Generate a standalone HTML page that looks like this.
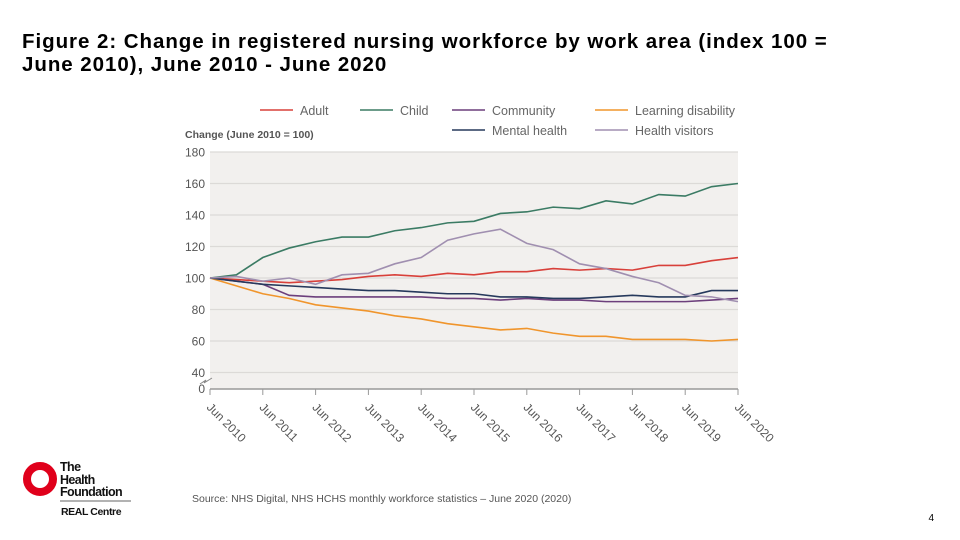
<!DOCTYPE html>
<html><head><meta charset="utf-8"><style>
body{margin:0;width:960px;height:540px;background:#fff;font-family:"Liberation Sans",sans-serif;overflow:hidden;position:relative}
.t{position:absolute;left:22px;top:30px;font-size:20.5px;font-weight:bold;letter-spacing:0.95px;line-height:23px;color:#000;white-space:nowrap}
</style></head><body>
<div class="t">Figure 2: Change in registered nursing workforce by work area (index 100 =<br>June 2010), June 2010 - June 2020</div>
<svg id="c" width="960" height="540" style="position:absolute;left:0;top:0"></svg>
<script>
const years=["Jun 2010","Jun 2011","Jun 2012","Jun 2013","Jun 2014","Jun 2015","Jun 2016","Jun 2017","Jun 2018","Jun 2019","Jun 2020"];
const yTicks=[40,60,80,100,120,140,160,180];
const adult=[100,99,98,97,98,99,101,102,101,103,102,104,104,106,105,106,105,108,108,111,113];
const child=[100,102,113,119,123,126,126,130,132,135,136,141,142,145,144,149,147,153,152,158,160];
const community=[100,98,96,89,88,88,88,88,88,87,87,86,87,86,86,85,85,85,85,86,87];
const mental=[100,98,96,95,94,93,92,92,91,90,90,88,88,87,87,88,89,88,88,92,92];
const learning=[100,95,90,87,83,81,79,76,74,71,69,67,68,65,63,63,61,61,61,60,61];
const visitors=[100,101,98,100,96,102,103,109,113,124,128,131,122,118,109,106,101,97,89,88,85];
const series=[["adult",adult,"#d8403a"],["child",child,"#3b7b64"],["community",community,"#6c3f7c"],["learning-disability",learning,"#f0952c"],["mental-health",mental,"#26395c"],["health-visitors",visitors,"#a08fb0"]];
const x0=210,x1=738;
const X=i=>x0+(x1-x0)*i/(child.length-1);
const Y=v=>v<=0?389:278-(v-100)*31.5/20;
const svg=document.getElementById('c');const NS="http://www.w3.org/2000/svg";
function mk(t,a,p){const e=document.createElementNS(NS,t);for(const k in a)e.setAttribute(k,a[k]);(p||svg).appendChild(e);return e;}
let bg=mk('rect',{x:x0,y:Y(180),width:x1-x0,height:389-Y(180),fill:'#f2f0ee'});


yTicks.forEach(v=>{
 const g=mk('line',{x1:x0,x2:x1,y1:Y(v),y2:Y(v),stroke:'#dcdad7','stroke-width':1.2});
 
 
 const t=mk('text',{x:205,y:Y(v)+4.5,'text-anchor':'end','font-size':12,fill:'#555'});t.textContent=v;
 
 
});
let z=mk('text',{x:205,y:393,'text-anchor':'end','font-size':12,fill:'#555'});z.textContent='0';


let br=mk('path',{d:'M200 384 L206 380 L204 383 L212 378',stroke:'#888',fill:'none'});


let ax=mk('line',{x1:x0,x2:x1,y1:389,y2:389,stroke:'#999','stroke-width':1.5});


years.forEach((yr,i)=>{
 const x=x0+(x1-x0)*i/(years.length-1);
 const tk=mk('line',{x1:x,x2:x,y1:389,y2:395,stroke:'#999'});
 
 
 const t=mk('text',{x:x-4,y:408,'font-size':12,fill:'#555',transform:`rotate(45 ${x-4} 408)`});t.textContent=yr;
 
 
});
series.forEach(([n,d,c])=>{
 const p=mk('polyline',{points:d.map((v,i)=>X(i)+','+Y(v)).join(' '),fill:'none',stroke:c,'stroke-width':1.6});
 
 
});
const leg=[["Adult",260,112,"#d8403a"],["Child",360,112,"#3b7b64"],["Community",452,112,"#6c3f7c"],["Learning disability",595,112,"#f0952c"],["Mental health",452,132,"#26395c"],["Health visitors",595,132,"#a08fb0"]];
leg.forEach(([n,x,y,c])=>{
 const g=mk('g',{});
 
 
 mk('line',{x1:x,x2:x+33,y1:y-2,y2:y-2,stroke:c,'stroke-width':1.6},g);
 const t=mk('text',{x:x+40,y:y+3,'font-size':12.5,fill:'#666'},g);t.textContent=n;
});
let yl=mk('text',{x:185,y:138,'font-size':10.5,'font-weight':'bold',fill:'#555'});yl.textContent='Change (June 2010 = 100)';


let src=mk('text',{x:192,y:502,'font-size':10.5,fill:'#555'});src.textContent='Source: NHS Digital, NHS HCHS monthly workforce statistics – June 2020 (2020)';


let pg=mk('text',{x:934,y:521,'font-size':10,fill:'#000','text-anchor':'end'});pg.textContent='4';


const lg=mk('g',{});


mk('circle',{cx:40,cy:479,r:13,fill:'none',stroke:'#e0001b','stroke-width':8},lg);
[["The",471],["Health",484],["Foundation",496]].forEach(([s,y])=>{const t=mk('text',{x:60,y:y,'font-size':12.5,'font-weight':'bold',fill:'#111','letter-spacing':'-0.6'},lg);t.textContent=s;});
mk('line',{x1:60,x2:131,y1:501,y2:501,stroke:'#333','stroke-width':0.8},lg);
const rc=mk('text',{x:61,y:515,'font-size':10.5,'font-weight':'bold',fill:'#111','letter-spacing':'-0.4'},lg);rc.textContent='REAL Centre';
</script>
</body></html>
